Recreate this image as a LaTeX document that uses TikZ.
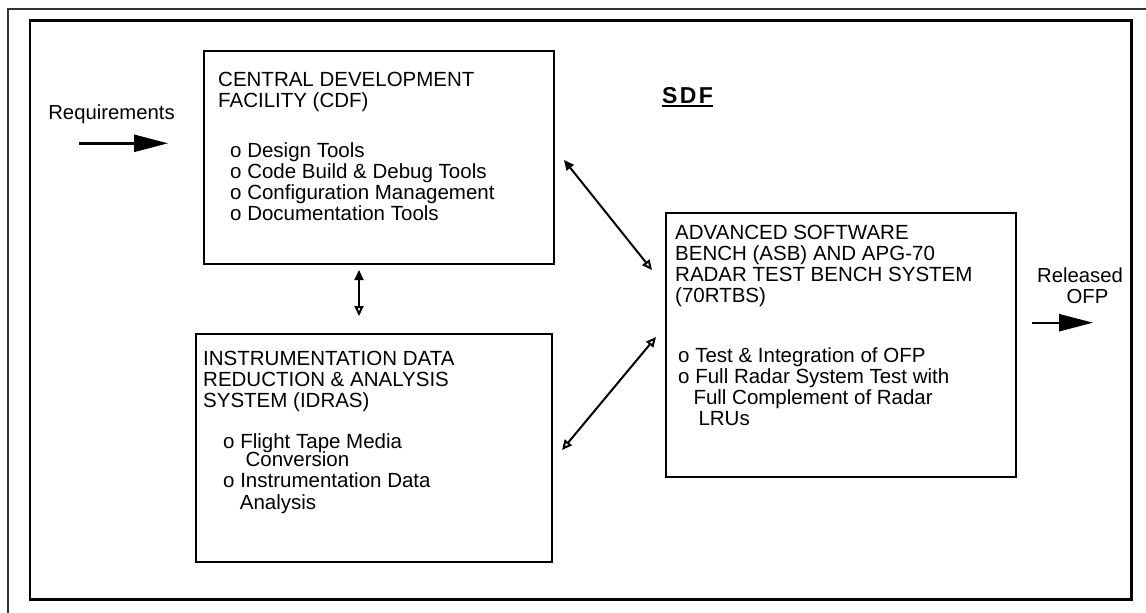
\documentclass[tikz,border=0pt]{standalone}
\usepackage{fontspec}
\setmainfont{Liberation Sans}
\usetikzlibrary{arrows.meta}
% thick underline that keeps the text baseline
\newcommand\thickul[1]{\vtop{\hbox{#1}\kern1.6pt\hrule height 2pt}}
\begin{document}
\begin{tikzpicture}[x=1pt,y=-1pt,
  box/.style={draw, line width=2.4pt, rectangle, inner sep=0, anchor=north west},
  txt/.style={anchor=north west, inner sep=0, align=left, font=\fontsize{20.5}{21}\selectfont},
  lbl/.style={inner sep=0, font=\fontsize{20.3}{21}\selectfont},
  bigarrow/.style={line width=2.4pt, -{Triangle[length=34pt,width=17pt]}},
  link/.style={line width=2pt, {Triangle[length=10pt,width=9pt]}-{Triangle[open,length=10pt,width=9pt]}},
  linkopen/.style={line width=2pt, {Triangle[open,length=10pt,width=9pt]}-{Triangle[open,length=10pt,width=9pt]}}
]
\clip (0,0) rectangle (1146,613);
\fill[white] (0,0) rectangle (1146,613);

% page frame and SDF frame
\draw[line width=1.8pt, black!80] (8,9) rectangle (1170,640);
\draw[line width=2.5pt] (30,20.5) rectangle (1131.5,599.5);

% main boxes
\node[box, minimum width=350pt, minimum height=213pt] (cdf) at (203,50) {};
\node[box, minimum width=356pt, minimum height=228pt] (idras) at (195,333) {};
\node[box, minimum width=350pt, minimum height=264pt] (asb) at (665,212) {};

% box contents
\node[txt] (cdftitle) at (218,72) {CENTRAL DEVELOPMENT\\FACILITY (CDF)};
\node[txt] (cdflist) at (230,142.7) {o Design Tools\\o Code Build \& Debug Tools\\o Configuration Management\\o Documentation Tools};

\node[txt] (idrastitle) at (203,350.7) {INSTRUMENTATION DATA\\REDUCTION \& ANALYSIS\\SYSTEM (IDRAS)};
\node[txt] (idraslist) at (223,433) {o Flight Tape Media\\[-2.3pt]\hspace*{22.4pt}Conversion\\o Instrumentation Data\\[0.6pt]\hspace*{16.7pt}Analysis};

\node[txt] (asbtitle) at (675,224.7) {ADVANCED SOFTWARE\\BENCH (ASB) AND APG-70\\RADAR TEST BENCH SYSTEM\\(70RTBS)};
\node[txt] (asblist) at (678,347.4) {o Test \& Integration of OFP\\o Full Radar System Test with\\\hspace*{15.3pt}Full Complement of Radar\\\hspace*{20.3pt}LRUs};

% heading
\node[inner sep=0, anchor=base, font=\fontsize{23}{25}\selectfont\bfseries] (sdf) at (687.5,103.3) {\thickul{S\kern2.5pt D\kern2.5pt F}};

% input and output
\node[lbl, anchor=base] (req) at (111.5,119.3) {Requirements};
\coordinate (reqa) at (79,143.3);
\coordinate (reqb) at (168,143.3);
\draw[bigarrow] (reqa) -- (reqb);

\node[lbl, anchor=north, align=center] (rel) at (1080,267.4) {Released\\\hspace*{15pt}OFP};
\coordinate (rela) at (1031.7,322.7);
\coordinate (relb) at (1093,322.7);
\draw[bigarrow] (rela) -- (relb);

% links between the benches
\coordinate (c1) at (564,160);
\coordinate (a1) at (652,270);
\draw[link] (c1) -- (a1);

\coordinate (c2) at (359,270);
\coordinate (i2) at (359,316);
\draw[link] (c2) -- (i2);

\coordinate (a3) at (656,337);
\coordinate (i3) at (562,450);
\draw[linkopen] (a3) -- (i3);
\end{tikzpicture}
\end{document}
